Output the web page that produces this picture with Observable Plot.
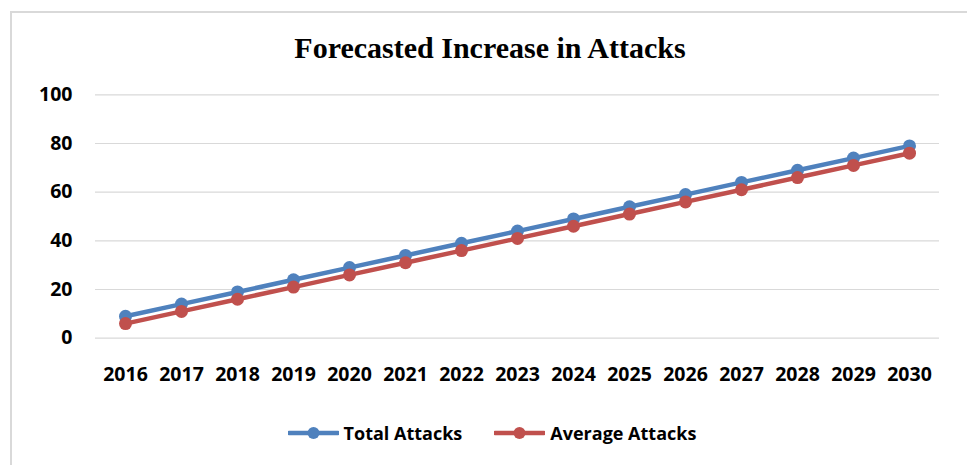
<!DOCTYPE html>
<html>
<head>
<meta charset="utf-8">
<script src="https://cdn.jsdelivr.net/npm/d3@7"></script>
<script src="https://cdn.jsdelivr.net/npm/@observablehq/plot@0.6"></script>
<style>
  body { margin: 0; background: #fff; }
  #frame { position: relative; width: 967px; height: 465px; overflow: hidden; background: #fff; }
  #border { position: absolute; left: 10px; top: 11px; width: 960px; height: 480px;
            border: 2px solid #d9d9d9; box-sizing: border-box; }
  #chart { position: absolute; left: 0; top: 0; width: 967px; }
  #title { height: 70px; box-sizing: border-box; padding-top: 32px; padding-left: 13px;
           text-align: center; font-family: "Liberation Serif", "Times New Roman", serif;
           font-weight: bold; font-size: 30px; line-height: 32px; color: #000; }
  #chart svg.plot { display: block; }
  #legend { height: 65px; display: flex; justify-content: center; align-items: center;
            padding-left: 17px; box-sizing: border-box; }
  .item { display: flex; align-items: center; margin: 0 16px; font-family: "Open Sans", sans-serif;
          font-weight: bold; font-size: 18px; color: #000; }
  .item svg { margin-right: 5px; }
</style>
</head>
<body>
<div id="frame">
  <div id="border"></div>
  <div id="chart">
    <div id="title">Forecasted Increase in Attacks</div>
    <div id="plot"></div>
    <div id="legend"></div>
  </div>
</div>
<script>
// Yearly forecast values
const years = ["2016","2017","2018","2019","2020","2021","2022","2023","2024","2025","2026","2027","2028","2029","2030"];
const totalAttacks   = [9, 14, 19, 24, 29, 34, 39, 44, 49, 54, 59, 64, 69, 74, 79];
const averageAttacks = [6, 11, 16, 21, 26, 31, 36, 41, 46, 51, 56, 61, 66, 71, 76];
const seriesNames  = ["Total Attacks", "Average Attacks"];
const seriesColors = ["#4f81bd", "#c0504d"];
const yTicks = [0, 20, 40, 60, 80, 100];

const seriesValues = [totalAttacks, averageAttacks];
const rows = seriesNames.flatMap((name, s) =>
  years.map((year, i) => ({ series: name, year, value: seriesValues[s][i] }))
);

const tickFont = { fontFamily: "Open Sans, sans-serif", fontWeight: "bold", fontSize: 19.5, fill: "#000" };

const seriesMarks = seriesNames.flatMap((name, s) => {
  const data = rows.filter(d => d.series === name);
  return [
    Plot.line(data, { x: "year", y: "value", stroke: seriesColors[s], strokeWidth: 4.5, strokeLinejoin: "round" }),
    Plot.dot(data, { x: "year", y: "value", r: 6.5, fill: seriesColors[s], stroke: "none" })
  ];
});

const chart = Plot.plot({
  width: 967,
  height: 330,
  marginLeft: 95,
  marginRight: 28,
  marginTop: 24.3,
  marginBottom: 62.3,
  style: { background: "transparent", overflow: "visible" },
  x: { type: "point", domain: years, padding: 0.5 },
  y: { domain: [0, 100] },
  marks: [
    Plot.gridY(yTicks, { stroke: "#d9d9d9", strokeOpacity: 1, strokeWidth: 1.2 }),
    Plot.axisY(yTicks, { tickSize: 0, tickPadding: 23, ...tickFont, label: null }),
    Plot.axisX(years, { tickSize: 0, tickPadding: 29, ...tickFont, label: null }),
    ...seriesMarks
  ]
});
document.getElementById("plot").appendChild(chart);

// Legend: line-with-marker swatch followed by the series name
const legend = d3.select("#legend");
seriesNames.forEach((name, s) => {
  const item = legend.append("div").attr("class", "item");
  const sw = item.append("svg").attr("width", 51).attr("height", 16);
  sw.append("line").attr("x1", 1).attr("x2", 50).attr("y1", 8).attr("y2", 8)
    .attr("stroke", seriesColors[s]).attr("stroke-width", 4.5).attr("stroke-linecap", "round");
  sw.append("circle").attr("cx", 25.5).attr("cy", 8).attr("r", 6).attr("fill", seriesColors[s]);
  item.append("span").text(name);
});
</script>
</body>
</html>
